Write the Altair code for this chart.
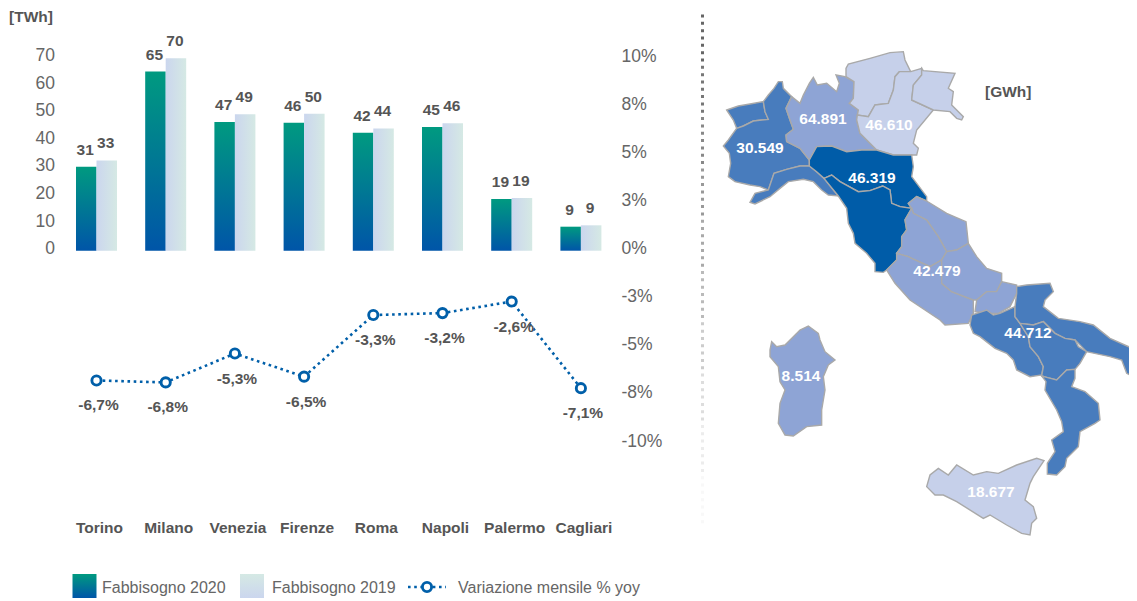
import altair as alt
import pandas as pd

FONT = "Liberation Sans"
TXT = "#555555"
AX = "#666666"
W, H = 1121, 593

cities = ["Torino", "Milano", "Venezia", "Firenze", "Roma", "Napoli", "Palermo", "Cagliari"]
bar_2020 = [30.4, 64.9, 46.6, 46.4, 42.7, 44.8, 18.7, 8.7]
bar_2019 = [32.7, 69.7, 49.4, 49.6, 44.3, 46.2, 19.1, 9.2]
label_2020 = ["31", "65", "47", "46", "42", "45", "19", "9"]
label_2019 = ["33", "70", "49", "50", "44", "46", "19", "9"]
yoy = [-6.7, -6.8, -5.3, -6.5, -3.3, -3.2, -2.6, -7.1]
yoy_labels = ["-6,7%", "-6,8%", "-5,3%", "-6,5%", "-3,3%", "-3,2%", "-2,6%", "-7,1%"]
left_ticks = [0, 10, 20, 30, 40, 50, 60, 70]
right_ticks = [-10, -7.5, -5, -2.5, 0, 2.5, 5, 7.5, 10]

# Map outlines, in crop units (crop origin 700,40, 3x)
VDA = [(80,210),(115,198),(150,192),(190,185),(195,215),(205,238),(160,243),(130,258),(110,265),(100,240)]
PIE = [(110,265),(130,258),(160,243),(205,238),(195,215),(190,185),(205,165),(222,145),(235,125),(247,125),(250,145),(275,170),(258,205),(270,240),(280,268),(258,285),(260,305),(300,325),(328,360),(328,378),(300,378),(260,388),(222,400),(205,450),(180,440),(150,435),(105,425),(85,410),(92,370),(88,340),(70,318),(85,300)]
LIG = [(150,487),(165,460),(205,450),(222,400),(260,388),(300,378),(328,378),(350,395),(372,415),(415,468),(385,465),(365,450),(340,425),(310,418),(265,425),(240,445),(210,470),(165,492)]
LOM = [(275,170),(300,190),(310,165),(328,130),(340,112),(352,135),(380,130),(410,155),(418,130),(408,105),(435,110),(462,125),(460,175),(448,190),(475,210),(470,240),(480,280),(530,330),(485,330),(440,335),(395,318),(350,320),(328,360),(300,325),(260,305),(258,285),(280,268),(270,240),(258,205)]
TAA = [(438,85),(445,72),(510,55),(570,38),(610,35),(615,60),(632,95),(598,95),(585,110),(580,150),(565,190),(525,195),(505,230),(472,225),(475,210),(448,190),(460,175),(462,125),(438,110)]
VEN = [(632,95),(665,85),(665,105),(640,135),(635,180),(700,210),(650,270),(640,310),(655,325),(650,345),(635,345),(580,345),(530,330),(480,280),(470,240),(472,225),(505,230),(525,195),(565,190),(580,150),(585,110),(598,95)]
FVG = [(665,85),(670,92),(765,100),(745,145),(760,155),(755,195),(790,230),(785,240),(770,235),(750,215),(700,210),(635,180),(640,135),(665,105)]
EMR = [(350,320),(395,318),(440,335),(485,330),(530,330),(580,345),(635,345),(640,380),(635,410),(680,470),(680,483),(650,470),(625,490),(635,505),(600,500),(575,490),(570,450),(548,438),(510,452),(475,455),(420,425),(395,405),(372,415),(350,395),(328,378),(328,360)]
TOS = [(372,415),(395,405),(420,425),(475,455),(510,452),(548,438),(570,450),(575,490),(600,500),(635,505),(615,540),(620,570),(605,590),(605,620),(590,640),(590,660),(560,690),(550,697),(525,695),(525,670),(500,640),(465,610),(460,580),(445,550),(440,505),(415,468)]
MAR = [(625,490),(650,470),(680,483),(740,520),(798,545),(805,610),(770,630),(740,635),(715,590),(680,540),(640,520),(635,505)]
UMB = [(635,505),(640,520),(680,540),(715,590),(740,635),(725,660),(690,680),(635,655),(625,650),(590,640),(605,620),(605,590),(620,570),(615,540)]
LAZ = [(560,690),(590,660),(590,640),(625,650),(635,655),(690,680),(725,660),(725,730),(755,755),(820,780),(820,820),(805,850),(735,855),(720,840),(630,780),(585,730)]
ABR = [(805,610),(830,650),(860,685),(905,700),(905,725),(890,755),(860,755),(830,780),(820,780),(755,755),(725,730),(725,660),(740,635),(770,630)]
MOL = [(905,725),(950,735),(950,760),(930,800),(895,820),(860,820),(825,815),(830,780),(860,755),(890,755)]
# Second crop, origin 760,250, 3x
CAM = [(630,225),(635,195),(680,180),(700,195),(720,190),(765,170),(765,200),(780,220),(805,260),(810,290),(835,320),(850,350),(845,375),(810,380),(770,360),(760,330),(740,310),(705,295),(660,260),(640,250)]
PUG = [(770,130),(770,110),(800,105),(870,100),(880,125),(855,150),(850,170),(895,205),(960,215),(1000,225),(1050,265),(1150,310),(1150,395),(1100,370),(1085,330),(1050,320),(980,305),(945,270),(915,265),(885,250),(850,215),(820,225),(780,220),(765,200),(765,170)]
BAS = [(780,220),(820,225),(850,215),(885,250),(915,265),(945,270),(955,290),(980,305),(960,340),(945,358),(920,360),(890,390),(860,382),(845,378),(850,350),(835,320),(810,290),(805,260)]
CAL = [(845,378),(860,382),(890,390),(920,360),(945,358),(945,385),(935,410),(975,425),(1015,460),(1020,510),(1005,520),(960,545),(955,590),(920,625),(915,650),(890,675),(862,672),(862,640),(885,605),(875,570),(910,545),(905,515),(890,480),(855,420),(858,395)]
SAR = [(30,300),(35,275),(50,290),(75,285),(120,240),(145,228),(175,250),(180,270),(195,305),(225,330),(205,345),(190,380),(195,420),(185,480),(185,525),(140,530),(100,558),(75,555),(55,520),(60,460),(75,420),(60,395),(55,350),(30,320)]
SIC = [(500,710),(510,675),(535,655),(565,675),(590,645),(640,675),(680,665),(715,670),(770,645),(830,625),(852,632),(820,680),(810,700),(795,750),(820,770),(830,805),(815,820),(810,855),(785,850),(740,825),(690,795),(670,805),(590,755),(550,735),(525,735)]

map_groups = {
    "ovest": ([VDA, PIE, LIG], [], "#487cbd"),
    "lombardia": ([LOM], [], "#8ea4d5"),
    "triveneto": ([TAA, VEN, FVG], [], "#c6d0ea"),
    "emilia": ([EMR, TOS], [], "#005ca8"),
    "centro": ([MAR, UMB, LAZ, ABR, MOL], [], "#8ea4d5"),
    "sud": ([], [CAM, PUG, BAS, CAL], "#487cbd"),
    "sardegna": ([], [SAR], "#8ea4d5"),
    "sicilia": ([], [SIC], "#c6d0ea"),
}
map_labels = ["30.549", "64.891", "46.610", "46.319", "42.479", "44.712", "8.514", "18.677"]
map_label_x = [760, 823, 889, 872, 937, 1028, 801, 991]
map_label_y = [148, 119, 125, 178, 271, 333, 376, 492]

legend_names = ["Fabbisogno 2020", "Fabbisogno 2019", "Variazione mensile % yoy"]
legend_text_x = [94, 264, 450]
divider_shades = ["#666666", "#777777", "#888888", "#999999", "#a9a9a9", "#bababa",
                  "#cccccc", "#dddddd", "#ececec", "#f8f8f8"]

BLUE = "#005fa9"
def grad(x1, y1, x2, y2, c0, c1):
    return alt.Gradient(gradient="linear", x1=x1, y1=y1, x2=x2, y2=y2,
                        stops=[alt.GradientStop(offset=0, color=c0), alt.GradientStop(offset=1, color=c1)])
GRAD_2020 = grad(0, 0, 0, 1, "#009a80", "#0055a8")
GRAD_2019 = grad(0, 0, 1, 0, "#cbd6ee", "#d5e9e4")
SWATCH_2019 = grad(0, 0, 0, 1, "#d5e9e4", "#cbd6ee")

long = pd.DataFrame(
    [{"city": c, "series": "2020", "v": v, "t": t} for c, v, t in zip(cities, bar_2020, label_2020)]
    + [{"city": c, "series": "2019", "v": v, "t": t} for c, v, t in zip(cities, bar_2019, label_2019)]
)
line_df = pd.DataFrame({"city": cities, "yoy": yoy, "t": yoy_labels})

x_enc = alt.X("city:N", title=None,
              scale=alt.Scale(domain=cities, range=[53.9, 607.5], paddingInner=0.4075, paddingOuter=0.2037),
              axis=alt.Axis(orient="bottom", offset=-(8 + H - 527), domain=False, ticks=False, labelPadding=0,
                            labelAngle=0, labelBaseline="middle", labelFont=FONT, labelFontSize=15.5,
                            labelFontWeight="bold", labelColor=TXT, labelOffset=3, labelOverlap=False))
xo = alt.XOffset("series:N", scale=alt.Scale(domain=["2020", "2019"]))
y_left = alt.Y("v:Q", title=None, stack=None,
               scale=alt.Scale(domain=[0, 70], range=[242.7, 49.5], nice=False),
               axis=alt.Axis(orient="left", values=left_ticks, offset=-46.5, domain=False, ticks=False,
                             grid=False, labelPadding=0, labelFont=FONT, labelFontSize=17.5,
                             labelColor=AX, labelOffset=-2))
y_right = alt.Y("yoy:Q", title=None,
                scale=alt.Scale(domain=[-10, 10], range=[436, 51], nice=False),
                axis=alt.Axis(orient="right", values=right_ticks, offset=-(W - 613), domain=False, ticks=False,
                              grid=False, labelPadding=0, labelAlign="left", labelFont=FONT, labelFontSize=17.5,
                              labelColor=AX, labelOffset=-3,
                              labelExpr="(datum.value<0?'-':'')+format(abs(datum.value),'.0f')+'%'"))

base = alt.Chart(long).encode(x=x_enc, xOffset=xo, y=y_left)
bars20 = base.transform_filter("datum.series=='2020'").mark_bar(fill=GRAD_2020)
bars19 = base.transform_filter("datum.series=='2019'").mark_bar(fill=GRAD_2019)
bar_text = base.mark_text(font=FONT, fontSize=15.5, fontWeight="bold", color=TXT, dy=-17, dx=-1,
                          baseline="middle").encode(text="t:N")
bar_layer = alt.layer(bars20, bars19, bar_text)

lbase = alt.Chart(line_df).encode(x=x_enc, y=y_right)
line = lbase.mark_line(color=BLUE, strokeWidth=2.6, strokeDash=[2.6, 3.6])
pts = lbase.mark_point(shape="circle", filled=True, fill="white", stroke=BLUE, strokeWidth=2.9, size=85, opacity=1)
ltext = lbase.mark_text(font=FONT, fontSize=15.5, fontWeight="bold", color=TXT, dy=25, dx=2,
                        baseline="middle").encode(text="t:N")
line_layer = alt.layer(line, pts, ltext)

# Map
def crop1(p):
    return [700 + p[0] / 3, 40 + p[1] / 3]
def crop2(p):
    return [760 + p[0] / 3, 250 + p[1] / 3]

features = []
for name, (r1, r2, fill) in map_groups.items():
    rings = [[crop1(p) for p in r + r[:1]] for r in r1] + [[crop2(p) for p in r + r[:1]] for r in r2]
    for ring in rings:
        features.append({"type": "Feature", "properties": {"fill": fill},
                         "geometry": {"type": "Polygon", "coordinates": [ring]}})

proj = alt.Projection(type="identity", scale=1, translate=[-8, -8])
geo_data = alt.InlineData(values={"type": "FeatureCollection", "features": features},
                          format=alt.DataFormat(property="features", type="json"))
geo = (alt.Chart(geo_data).mark_geoshape(stroke="#a9a9a9", strokeWidth=1.4)
       .encode(color=alt.Color("properties.fill:N", scale=None)).project(**proj.to_dict()))
geo_text = (alt.Chart(pd.DataFrame({"t": map_labels, "lon": map_label_x, "lat": map_label_y}))
            .mark_text(font=FONT, fontSize=15.5, fontWeight="bold", color="white", baseline="middle")
            .encode(longitude="lon:Q", latitude="lat:Q", text="t:N").project(**proj.to_dict()))

one = alt.Data(values=[{}])
def label(t, x, y, weight="normal", size=16, color=AX, align="left"):
    return alt.Chart(one).mark_text(font=FONT, fontSize=size, fontWeight=weight, color=color, align=align,
                                    baseline="middle").encode(x=alt.value(x), y=alt.value(y), text=alt.value(t))

def swatch(x0, fill):
    return alt.Chart(one).mark_rect(fill=fill).encode(x=alt.value(x0), x2=alt.value(x0 + 24),
                                                      y=alt.value(566), y2=alt.value(590))

extras = [label("[TWh]", 1, 9, "bold", 15.5, TXT), label("[GWh]", 977, 84, "bold", 15.5, TXT),
          swatch(64.5, GRAD_2020), swatch(232, SWATCH_2019)]
for t, lx in zip(legend_names, legend_text_x):
    extras.append(label(t, lx, 579.5))
extras.append(alt.Chart(one).mark_rule(color=BLUE, strokeWidth=2.6, strokeDash=[2.6, 3.6]).encode(
    x=alt.value(400), x2=alt.value(438), y=alt.value(579)))
extras.append(alt.Chart(one).mark_point(shape="circle", filled=True, fill="white", stroke=BLUE, strokeWidth=2.9,
                                        size=85, opacity=1).encode(x=alt.value(419), y=alt.value(579)))

dividers = []
for i, shade in enumerate(divider_shades):
    y0 = 6.5 + i * 51.3
    dividers.append(alt.Chart(one).mark_rule(color=shade, strokeWidth=3, strokeDash=[3, 4.33]).encode(
        x=alt.value(694.5), y=alt.value(y0), y2=alt.value(y0 + 51.3)))

chart = alt.layer(geo, geo_text, bar_layer, line_layer, *extras, *dividers).resolve_scale(y="independent").properties(
    width=W, height=H, autosize=alt.AutoSizeParams(type="none"), padding=0,
).configure_view(stroke=None)

chart.save("out.html", embed_options={"renderer": "svg", "actions": False})
